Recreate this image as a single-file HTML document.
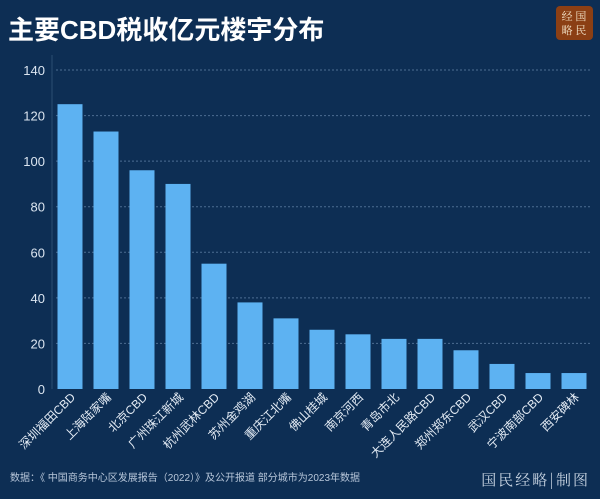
<!DOCTYPE html>
<html><head><meta charset="utf-8">
<style>
body{margin:0;width:600px;height:499px;background:#0d2e54;overflow:hidden;font-family:"Liberation Sans","Noto Sans CJK SC",sans-serif;}
svg{display:block}
</style></head><body>
<svg id="c" width="600" height="499">
<text x="8" y="39" font-size="26" font-weight="bold" fill="#fff" font-family="Liberation Sans,Noto Sans CJK SC,sans-serif">主要CBD税收亿元楼宇分布</text>
<g>
<rect x="556" y="6" width="37" height="34" rx="4" fill="#8b3f14"/>
<text x="574" y="20" font-size="11" fill="#f3e3c8" text-anchor="middle" font-family="Noto Serif CJK SC,serif">经 国</text>
<text x="574" y="34" font-size="11" fill="#f3e3c8" text-anchor="middle" font-family="Noto Serif CJK SC,serif">略 民</text>
</g>
<line x1="52" y1="55" x2="52" y2="389" stroke="#2c4d72" stroke-width="1"/>
<g id="grid"></g><g id="bars"></g><g id="xl"></g>
<text x="10" y="481" font-size="10" fill="#b8c7da">数据：《 中国商务中心区发展报告（2022）》及公开报道 部分城市为2023年数据</text>
<text x="590" y="485" font-size="15" fill="#c8d4e2" text-anchor="end" font-family="Noto Serif CJK SC,serif" letter-spacing="2">国民经略|制图</text>
</svg>
<script>
const categories=["深圳福田CBD","上海陆家嘴","北京CBD","广州珠江新城","杭州武林CBD","苏州金鸡湖","重庆江北嘴","佛山桂城","南京河西","青岛市北","大连人民路CBD","郑州郑东CBD","武汉CBD","宁波南部CBD","西安碑林"];
const values=[125,113,96,90,55,38,31,26,24,22,22,17,11,7,7];
const ticks=[0,20,40,60,80,100,120,140];
const NS="http://www.w3.org/2000/svg";
const y0=389,pxPerUnit=(389-70)/140;
const y=v=>y0-v*pxPerUnit;
const x0=52,x1=592,step=(x1-x0)/categories.length;
const xc=i=>x0+step*(i+0.5);
const bw=25;
const grid=document.getElementById('grid'),bars=document.getElementById('bars'),xl=document.getElementById('xl');
ticks.forEach(t=>{
  if(t>0){const l=document.createElementNS(NS,'line');
  l.setAttribute('x1',56);l.setAttribute('x2',592);l.setAttribute('y1',y(t));l.setAttribute('y2',y(t));
  l.setAttribute('stroke','#4d6d92');l.setAttribute('stroke-dasharray','2,2');
  
  
  grid.appendChild(l);}
  const tx=document.createElementNS(NS,'text');
  tx.setAttribute('x',45);tx.setAttribute('y',y(t)+5);tx.setAttribute('text-anchor','end');
  tx.setAttribute('font-size','13');tx.setAttribute('fill','#dbe5f0');tx.textContent=t;
  
  
  grid.appendChild(tx);
});
values.forEach((v,i)=>{
  const r=document.createElementNS(NS,'rect');
  r.setAttribute('x',xc(i)-bw/2);r.setAttribute('width',bw);r.setAttribute('y',y(v));r.setAttribute('height',y0-y(v));
  r.setAttribute('fill','#5db2f2');
  
  
  bars.appendChild(r);
  const t=document.createElementNS(NS,'text');
  const tx=xc(i)+6,ty=398;
  t.setAttribute('x',tx);t.setAttribute('y',ty);t.setAttribute('text-anchor','end');
  t.setAttribute('transform','rotate(-45 '+tx+' '+ty+')');
  t.setAttribute('font-size','12');t.setAttribute('fill','#e4ecf5');t.textContent=categories[i];
  
  
  xl.appendChild(t);
});
</script>
</body></html>
